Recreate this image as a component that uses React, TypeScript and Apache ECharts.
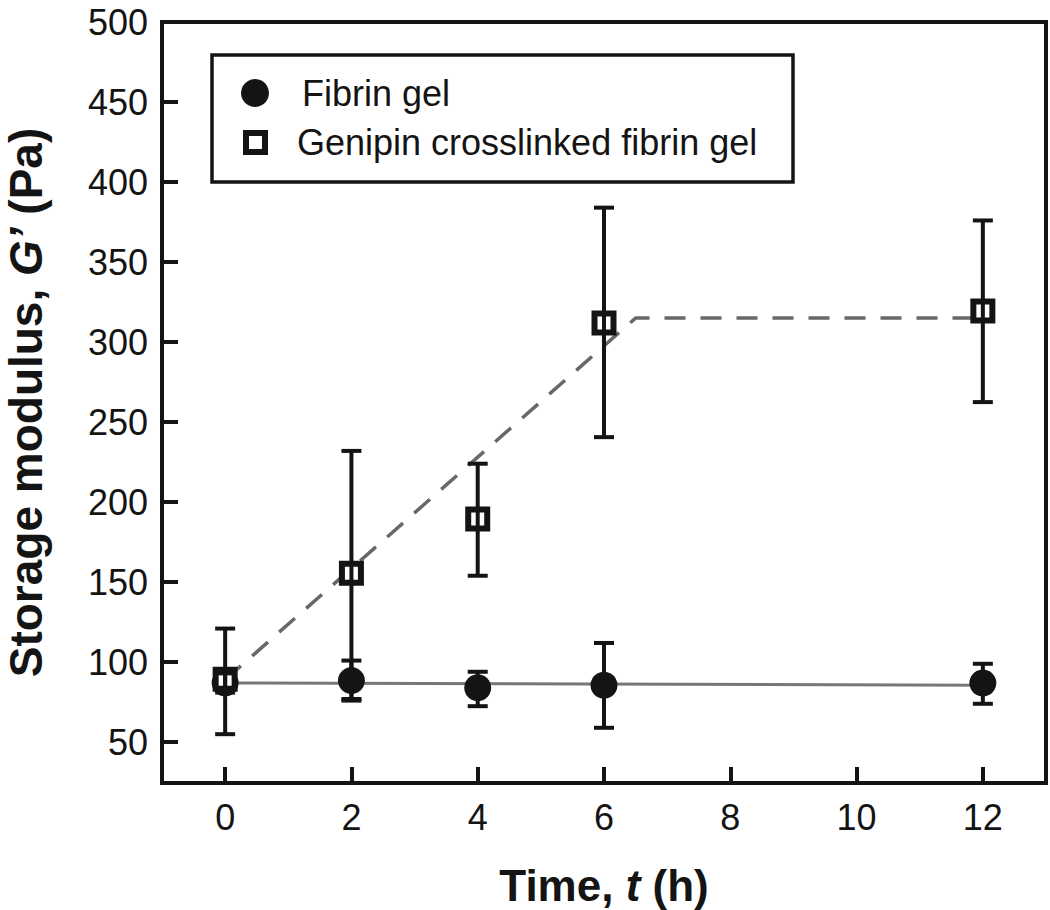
import React, { useEffect, useRef } from "react";
import * as echarts from "echarts";

const times = [0, 2, 4, 6, 12];
const fibrinMean = [87, 88.5, 84, 85.6, 87];
const fibrinLow = [81, 76, 72.5, 59, 74];
const fibrinHigh = [93, 101, 94, 112, 99];
const genipinMean = [89.4, 155.6, 189.4, 312, 319.4];
const genipinLow = [55, 77, 154, 240.6, 262.5];
const genipinHigh = [121, 232, 224, 384, 376];
const fibrinFit = [[0, 87], [12, 85.6]];
const genipinFit = [[0, 89], [6.5, 315], [12, 315]];
const xTicks = [0, 2, 4, 6, 8, 10, 12];
const yTicks = [50, 100, 150, 200, 250, 300, 350, 400, 450];
const yLabels = [50, 100, 150, 200, 250, 300, 350, 400, 450, 500];
const legendNames = ["Fibrin gel", "Genipin crosslinked fibrin gel"];

const FONT = "'Liberation Sans', Arial, Helvetica, sans-serif";
const INK = "#141414";

function errorBarRender(params: any, api: any) {
  const x = api.value(0);
  const lo = api.coord([x, api.value(1)]);
  const hi = api.coord([x, api.value(2)]);
  const hw = 10;
  const style = { stroke: INK, lineWidth: 4 };
  return {
    type: "group",
    children: [
      { type: "line", shape: { x1: lo[0], y1: lo[1], x2: hi[0], y2: hi[1] }, style },
      { type: "line", shape: { x1: lo[0] - hw, y1: lo[1], x2: lo[0] + hw, y2: lo[1] }, style },
      { type: "line", shape: { x1: hi[0] - hw, y1: hi[1], x2: hi[0] + hw, y2: hi[1] }, style },
    ],
  };
}

export default function App() {
  const ref = useRef<HTMLDivElement>(null);
  useEffect(() => {
    document.body.style.margin = "0";
    if (!ref.current) return;
    const chart = echarts.init(ref.current, null, { renderer: "svg" });
    const gridLeft = 162, gridTop = 22, gridW = 884, gridH = 761;
    const option: any = {
      animation: false,
      backgroundColor: "#ffffff",
      textStyle: { fontFamily: FONT },
      grid: {
        left: gridLeft,
        top: gridTop,
        width: gridW,
        height: gridH,
        containLabel: false,
        outerBoundsMode: "none",
        show: true,
        borderColor: INK,
        borderWidth: 4,
        backgroundColor: "transparent",
      },
      xAxis: {
        type: "value",
        min: -1,
        max: 13,
        name: "Time, {i|t} (h)",
        nameLocation: "middle",
        nameGap: 80,
        nameTextStyle: {
          fontFamily: FONT,
          fontSize: 44,
          fontWeight: "bold",
          color: INK,
          rich: { i: { fontFamily: FONT, fontSize: 44, fontWeight: "bold", fontStyle: "italic", color: INK } },
        },
        axisLine: { show: false, onZero: false },
        splitLine: { show: false },
        axisTick: {
          show: true,
          inside: true,
          length: 16,
          customValues: xTicks,
          lineStyle: { color: INK, width: 4 },
        },
        axisLabel: {
          customValues: xTicks,
          margin: 16,
          fontSize: 36,
          fontFamily: FONT,
          color: INK,
        },
      },
      yAxis: {
        type: "value",
        min: 24.5,
        max: 500,
        name: "Storage modulus, {i|G’} (Pa)",
        nameLocation: "middle",
        nameRotate: 90,
        nameGap: 113,
        nameTextStyle: {
          fontFamily: FONT,
          fontSize: 46,
          lineHeight: 46,
          fontWeight: "bold",
          color: INK,
          rich: {
            i: { fontFamily: FONT, fontSize: 46, lineHeight: 46, fontWeight: "bold", fontStyle: "italic", color: INK },
          },
        },
        axisLine: { show: false, onZero: false },
        splitLine: { show: false },
        axisTick: {
          show: true,
          inside: true,
          length: 16,
          customValues: yTicks,
          lineStyle: { color: INK, width: 4 },
        },
        axisLabel: {
          customValues: yLabels,
          margin: 14,
          fontSize: 36,
          fontFamily: FONT,
          color: INK,
        },
      },
      series: [
        {
          type: "line",
          data: fibrinFit,
          symbol: "none",
          lineStyle: { color: "#777777", width: 3 },
          z: 1,
          silent: true,
        },
        {
          type: "line",
          data: genipinFit,
          symbol: "none",
          lineStyle: { color: "#686868", width: 3.5, type: [21, 15] },
          z: 1,
          silent: true,
        },
        {
          name: legendNames[0],
          type: "scatter",
          data: times.map((t, i) => [t, fibrinMean[i]]),
          symbol: "circle",
          symbolSize: 27,
          itemStyle: { color: INK, opacity: 1 },
          z: 3,
        },
        {
          name: legendNames[1],
          type: "scatter",
          data: times.map((t, i) => [t, genipinMean[i]]),
          symbol: "rect",
          symbolSize: 19,
          itemStyle: { color: "#ffffff", borderColor: INK, borderWidth: 6, opacity: 1 },
          z: 4,
        },
        {
          type: "custom",
          renderItem: errorBarRender,
          data: times.map((t, i) => [t, fibrinLow[i], fibrinHigh[i]]),
          encode: { x: 0, y: [1, 2] },
          z: 5,
          silent: true,
        },
        {
          type: "custom",
          renderItem: errorBarRender,
          data: times.map((t, i) => [t, genipinLow[i], genipinHigh[i]]),
          encode: { x: 0, y: [1, 2] },
          z: 5,
          silent: true,
        },
      ],
      graphic: [
        {
          type: "group",
          z: 100,
          children: [
            {
              type: "rect",
              shape: { x: 212, y: 55, width: 581, height: 127 },
              style: { fill: "#ffffff", stroke: INK, lineWidth: 3.5 },
            },
            {
              type: "circle",
              shape: { cx: 255, cy: 93, r: 14 },
              style: { fill: INK },
            },
            {
              type: "rect",
              shape: { x: 246, y: 133, width: 19, height: 19 },
              style: { fill: "#ffffff", stroke: INK, lineWidth: 6 },
            },
            {
              type: "text",
              x: 302,
              y: 93,
              style: { text: legendNames[0], font: `36px ${FONT}`, fill: INK, verticalAlign: "middle" },
            },
            {
              type: "text",
              x: 297,
              y: 142,
              style: { text: legendNames[1], font: `36px ${FONT}`, fill: INK, verticalAlign: "middle" },
            },
          ],
        },
      ],
    };
    chart.setOption(option);
    return () => chart.dispose();
  }, []);
  return <div ref={ref} style={{ width: 1050, height: 910 }} />;
}
